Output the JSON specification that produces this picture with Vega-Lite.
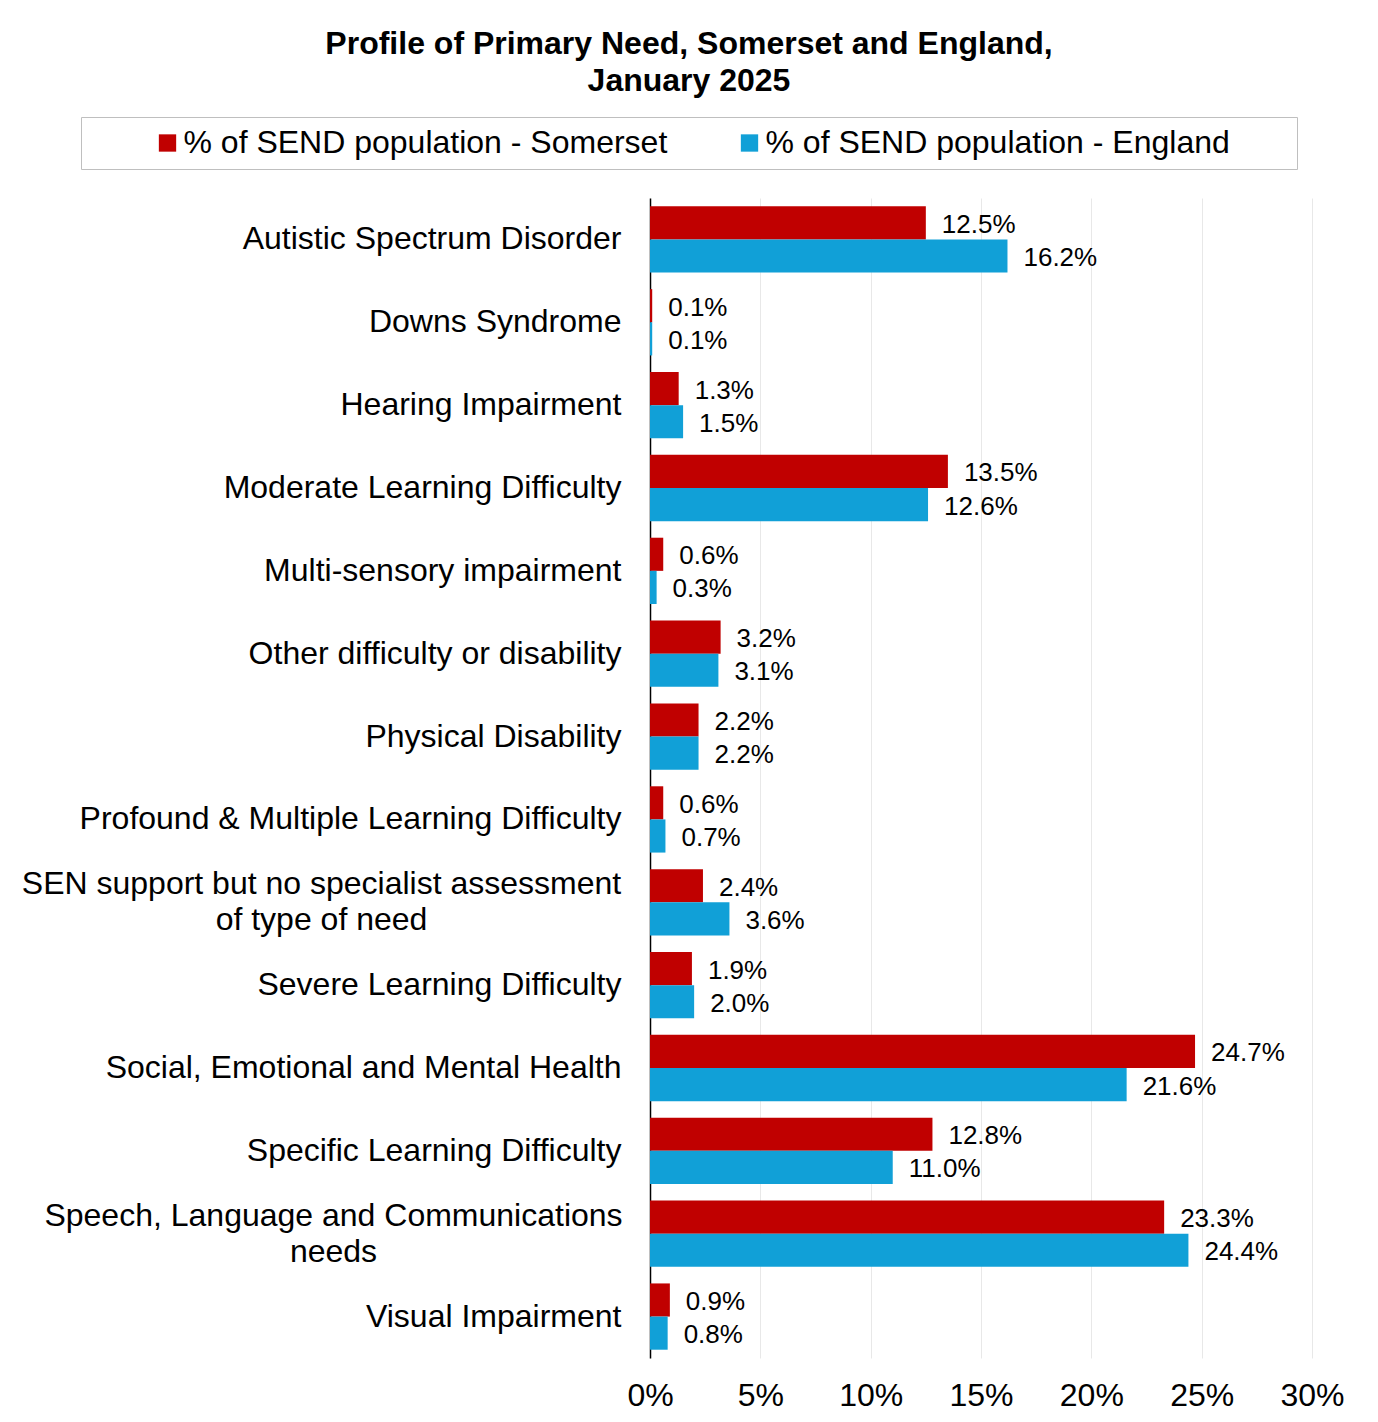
{
  "$schema": "https://vega.github.io/schema/vega-lite/v6.json",
  "width": 662,
  "height": 1160,
  "autosize": {"type": "none"},
  "padding": {"left": 650, "top": 198, "right": 66, "bottom": 64},
  "background": "white",
  "config": {"font": "Liberation Sans", "view": {"stroke": null}},
  "title": {
    "text": ["Profile of Primary Need, Somerset and England,", "January 2025"],
    "fontSize": 32,
    "fontWeight": "bold",
    "font": "Liberation Sans",
    "color": "black",
    "lineHeight": 37,
    "anchor": "middle",
    "frame": "group",
    "dx": -292,
    "offset": 19
  },
  "data": {
    "values": [
      {"need": "Autistic Spectrum Disorder", "series": "% of SEND population - Somerset", "pct": 0.125},
      {"need": "Autistic Spectrum Disorder", "series": "% of SEND population - England", "pct": 0.162},
      {"need": "Downs Syndrome", "series": "% of SEND population - Somerset", "pct": 0.001},
      {"need": "Downs Syndrome", "series": "% of SEND population - England", "pct": 0.001},
      {"need": "Hearing Impairment", "series": "% of SEND population - Somerset", "pct": 0.013},
      {"need": "Hearing Impairment", "series": "% of SEND population - England", "pct": 0.015},
      {"need": "Moderate Learning Difficulty", "series": "% of SEND population - Somerset", "pct": 0.135},
      {"need": "Moderate Learning Difficulty", "series": "% of SEND population - England", "pct": 0.126},
      {"need": "Multi-sensory impairment", "series": "% of SEND population - Somerset", "pct": 0.006},
      {"need": "Multi-sensory impairment", "series": "% of SEND population - England", "pct": 0.003},
      {"need": "Other difficulty or disability", "series": "% of SEND population - Somerset", "pct": 0.032},
      {"need": "Other difficulty or disability", "series": "% of SEND population - England", "pct": 0.031},
      {"need": "Physical Disability", "series": "% of SEND population - Somerset", "pct": 0.022},
      {"need": "Physical Disability", "series": "% of SEND population - England", "pct": 0.022},
      {"need": "Profound & Multiple Learning Difficulty", "series": "% of SEND population - Somerset", "pct": 0.006},
      {"need": "Profound & Multiple Learning Difficulty", "series": "% of SEND population - England", "pct": 0.007},
      {"need": "SEN support but no specialist assessment of type of need", "series": "% of SEND population - Somerset", "pct": 0.024},
      {"need": "SEN support but no specialist assessment of type of need", "series": "% of SEND population - England", "pct": 0.036},
      {"need": "Severe Learning Difficulty", "series": "% of SEND population - Somerset", "pct": 0.019},
      {"need": "Severe Learning Difficulty", "series": "% of SEND population - England", "pct": 0.020},
      {"need": "Social, Emotional and Mental Health", "series": "% of SEND population - Somerset", "pct": 0.247},
      {"need": "Social, Emotional and Mental Health", "series": "% of SEND population - England", "pct": 0.216},
      {"need": "Specific Learning Difficulty", "series": "% of SEND population - Somerset", "pct": 0.128},
      {"need": "Specific Learning Difficulty", "series": "% of SEND population - England", "pct": 0.110},
      {"need": "Speech, Language and Communications needs", "series": "% of SEND population - Somerset", "pct": 0.233},
      {"need": "Speech, Language and Communications needs", "series": "% of SEND population - England", "pct": 0.244},
      {"need": "Visual Impairment", "series": "% of SEND population - Somerset", "pct": 0.009},
      {"need": "Visual Impairment", "series": "% of SEND population - England", "pct": 0.008}
    ]
  },
  "encoding": {
    "y": {
      "field": "need",
      "type": "nominal",
      "sort": null,
      "scale": {"paddingInner": 0.2, "paddingOuter": 0.1},
      "axis": {
        "title": null,
        "grid": false,
        "ticks": false,
        "domainColor": "black",
        "domainWidth": 1.5,
        "labelFontSize": 32,
        "labelColor": "black",
        "labelLimit": 0,
        "labelLineHeight": 36,
        "labelExpr": "datum.value == 'SEN support but no specialist assessment of type of need' ? ['SEN support but no specialist assessment', 'of type of need'] : datum.value == 'Speech, Language and Communications needs' ? ['Speech, Language and Communications', 'needs'] : datum.label",
        "labelAlign": {"condition": {"test": "indexof(datum.value, 'SEN support') == 0 || indexof(datum.value, 'Speech') == 0", "value": "center"}, "value": "right"},
        "labelOffset": {"condition": {"test": "indexof(datum.value, 'SEN support') == 0 || indexof(datum.value, 'Speech') == 0", "value": -18}, "value": 0},
        "labelPadding": {"condition": [{"test": "indexof(datum.value, 'SEN support') == 0", "value": 329}, {"test": "indexof(datum.value, 'Speech') == 0", "value": 317}], "value": 29}
      }
    },
    "yOffset": {
      "field": "series",
      "type": "nominal",
      "sort": ["% of SEND population - Somerset", "% of SEND population - England"],
      "scale": {"paddingInner": 0}
    },
    "x": {
      "field": "pct",
      "type": "quantitative",
      "scale": {"domain": [0, 0.3]},
      "axis": {
        "title": null,
        "values": [0, 0.05, 0.1, 0.15, 0.2, 0.25, 0.3],
        "format": ".0%",
        "domain": false,
        "ticks": false,
        "labelFontSize": 32,
        "labelColor": "black",
        "labelPadding": 22,
        "labelFlush": false,
        "gridColor": "#E8E8E8",
        "gridWidth": 1
      }
    }
  },
  "layer": [
    {
      "mark": {"type": "bar"},
      "encoding": {
        "color": {
          "field": "series",
          "type": "nominal",
          "scale": {"domain": ["% of SEND population - Somerset", "% of SEND population - England"], "range": ["#C00000", "#11A0D7"]},
          "legend": {
            "orient": "none",
            "legendX": -569,
            "legendY": -81,
            "direction": "horizontal",
            "title": "\u00a0",
            "titleOrient": "right",
            "titlePadding": 57,
            "titleFontSize": 32,
            "labelFontSize": 32,
            "labelColor": "black",
            "labelLimit": 0,
            "symbolType": "square",
            "symbolSize": 300,
            "symbolStrokeWidth": 0,
            "symbolOffset": 60.5,
            "labelOffset": 0,
            "columnPadding": 5,
            "padding": 10,
            "strokeColor": "#BFBFBF"
          }
        }
      }
    },
    {
      "mark": {"type": "text", "align": "left", "baseline": "middle", "dx": 16, "dy": 2, "fontSize": 26, "color": "black"},
      "encoding": {"text": {"field": "pct", "type": "quantitative", "format": ".1%"}}
    }
  ]
}
